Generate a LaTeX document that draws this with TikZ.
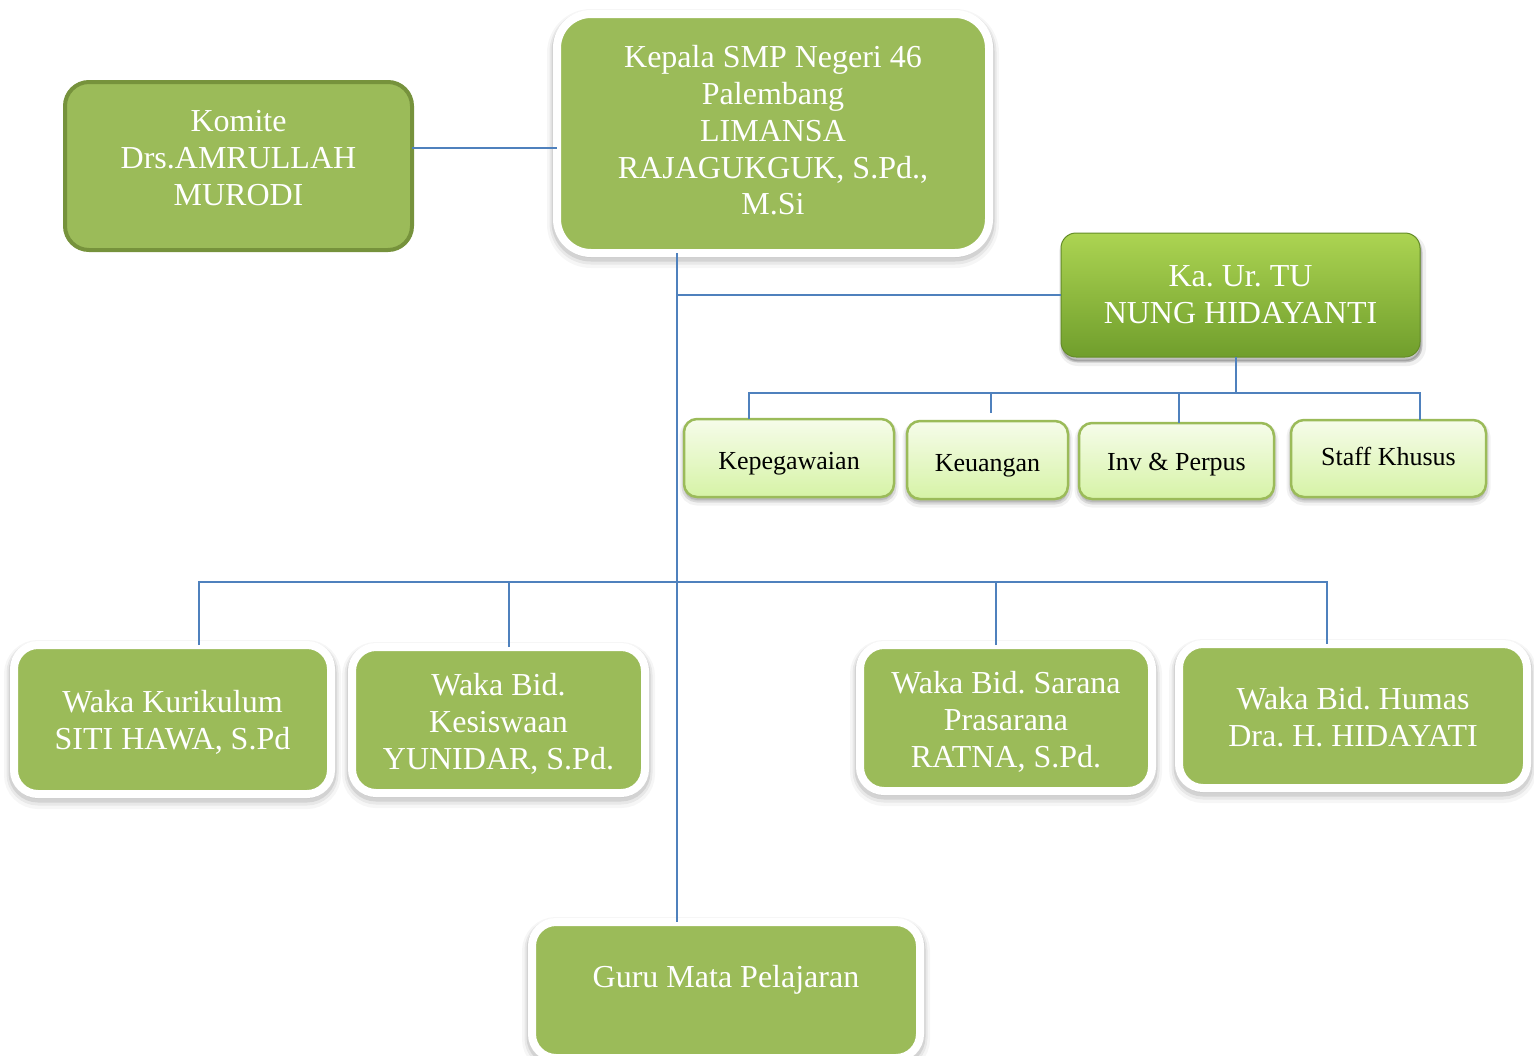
\documentclass[tikz,border=0pt]{standalone}
\usepackage{fontspec}
\setmainfont{Liberation Serif}
\usetikzlibrary{shadows}
\definecolor{ogreen}{RGB}{155,187,89}
\definecolor{kborder}{RGB}{118,146,60}
\definecolor{lineblue}{RGB}{79,129,189}
\definecolor{tutop}{RGB}{172,212,82}
\definecolor{tubot}{RGB}{112,158,44}
\definecolor{tuborder}{RGB}{100,140,40}
\definecolor{lttop}{RGB}{246,252,234}
\definecolor{ltbot}{RGB}{214,243,166}
\frenchspacing
\begin{document}
\begin{tikzpicture}[x=1pt,y=-1pt,
  halo/.style={
    general shadow={fill=black, draw=black, line width=20pt, opacity=0.035, shadow yshift=-5pt},
    general shadow={fill=black, draw=black, line width=15pt, opacity=0.06, shadow yshift=-4pt},
    general shadow={fill=black, draw=black, line width=11pt, opacity=0.09, shadow yshift=-3pt}},
  smallhalo/.style={
    general shadow={fill=black, draw=black, line width=9pt, opacity=0.05, shadow yshift=-4pt},
    general shadow={fill=black, draw=black, line width=5pt, opacity=0.1, shadow yshift=-3pt}},
  bigbox/.style={rectangle, rounded corners=28pt, fill=ogreen, draw=white, line width=8pt, halo,
    inner sep=0pt, outer sep=0pt},
  komitebox/.style={rectangle, rounded corners=24pt, fill=ogreen, draw=kborder, line width=4pt,
    inner sep=0pt, outer sep=0pt},
  tubox/.style={rectangle, rounded corners=15pt, top color=tutop, bottom color=tubot, draw=tuborder, line width=1pt,
    general shadow={fill=black, draw=black, line width=8pt, opacity=0.06, shadow xshift=2pt, shadow yshift=-5pt},
    general shadow={fill=black, draw=black, line width=3pt, opacity=0.15, shadow xshift=1pt, shadow yshift=-4pt},
    text=white, font=\fontsize{32}{37}\selectfont, align=center, inner sep=0pt, outer sep=0pt},
  smallbox/.style={rectangle, rounded corners=13pt, top color=lttop, bottom color=ltbot, draw=ogreen, line width=2.5pt,
    smallhalo, text=black, font=\fontsize{26}{30}\selectfont, align=center, inner sep=0pt, outer sep=0pt},
  wtxt/.style={text=white, font=\fontsize{32}{36.8}\selectfont, align=center, inner sep=0pt},
  conn/.style={draw=lineblue, line width=2pt}]
\useasboundingbox (0,0) rectangle (1534,1055);

% top level
\node[bigbox, rounded corners=34pt, minimum width=432pt, minimum height=239pt] (kepala) at (773,133.5) {};
\node[wtxt] (kepalatxt) at (773,130.5)
  {Kepala SMP Negeri 46\\Palembang\\LIMANSA\\RAJAGUKGUK, S.Pd.,\\M.Si};
\node[komitebox, minimum width=347pt, minimum height=168pt] (komite) at (238.5,166) {};
\node[wtxt] (komitetxt) at (238.5,158) {Komite\\Drs.AMRULLAH\\MURODI};
\node[tubox, minimum width=359pt, minimum height=124pt] (tu) at (1240.5,295)
  {Ka. Ur. TU\\NUNG HIDAYANTI};

% TU staff
\node[smallbox, minimum width=210pt, minimum height=78pt, text height=28pt, text depth=6pt] (kepeg) at (789,458) {Kepegawaian};
\node[smallbox, minimum width=161pt, minimum height=78pt, text height=28pt, text depth=6pt] (keu) at (987.5,460) {Keuangan};
\node[smallbox, minimum width=195pt, minimum height=76pt, text height=24pt, text depth=6pt] (inv) at (1176.5,461) {Inv \& Perpus};
\node[smallbox, minimum width=195pt, minimum height=77pt, text height=14pt, text depth=0pt] (staff) at (1388.5,458.5) {Staff Khusus};

% Waka
\node[bigbox, rounded corners=24pt, minimum width=317pt, minimum height=149pt] (kur) at (172.5,719.5) {};
\node[wtxt] (kurtxt) at (172.5,722) {Waka Kurikulum\\SITI HAWA, S.Pd};
\node[bigbox, rounded corners=24pt, minimum width=293pt, minimum height=146pt] (kes) at (498.5,720) {};
\node[wtxt] (kestxt) at (498.5,724) {Waka Bid.\\Kesiswaan\\YUNIDAR, S.Pd.};
\node[bigbox, rounded corners=24pt, minimum width=292pt, minimum height=146pt] (sar) at (1006,718) {};
\node[wtxt] (sartxt) at (1006,722) {Waka Bid. Sarana\\Prasarana\\RATNA, S.Pd.};
\node[bigbox, rounded corners=24pt, minimum width=348pt, minimum height=144pt] (hum) at (1353,716) {};
\node[wtxt] (humtxt) at (1353,717) {Waka Bid. Humas\\Dra. H. HIDAYATI};

% Guru
\node[bigbox, rounded corners=24pt, minimum width=388pt, minimum height=136pt] (guru) at (726,990) {};
\node[wtxt] (gurutxt) at (726,980) {Guru Mata Pelajaran};

% connectors
\coordinate (trunktop) at ([xshift=-96pt]kepala.south);
\coordinate (wbus) at (677,582);
\coordinate (tubus) at ([yshift=-36pt]tu.south);

\draw[conn] ([yshift=18pt]komite.east) -- ([yshift=18pt]komite.east -| kepala.west);
\draw[conn] (trunktop) -- (trunktop |- guru.north);
\draw[conn] (trunktop |- tu.west) -- (tu.west);

\draw[conn] ([xshift=-5pt]tu.south) -- ([xshift=-5pt]tubus);
\draw[conn] ([xshift=-40pt]kepeg.north) -- ([xshift=-40pt]kepeg.north |- tubus)
  -- ([xshift=31.5pt]staff.north |- tubus) -- ([xshift=31.5pt]staff.north);
\draw[conn] ([xshift=3.5pt]keu.north |- tubus) -- ([xshift=3.5pt,yshift=8pt]keu.north);
\draw[conn] ([xshift=2.5pt]inv.north |- tubus) -- ([xshift=2.5pt]inv.north);

\draw[conn] ([xshift=26.5pt]kur.north) -- ([xshift=26.5pt]kur.north |- wbus)
  -- ([xshift=-26pt]hum.north |- wbus) -- ([xshift=-26pt]hum.north);
\draw[conn] ([xshift=10.5pt]kes.north) -- ([xshift=10.5pt]kes.north |- wbus);
\draw[conn] ([xshift=-10pt]sar.north) -- ([xshift=-10pt]sar.north |- wbus);
\end{tikzpicture}
\end{document}
